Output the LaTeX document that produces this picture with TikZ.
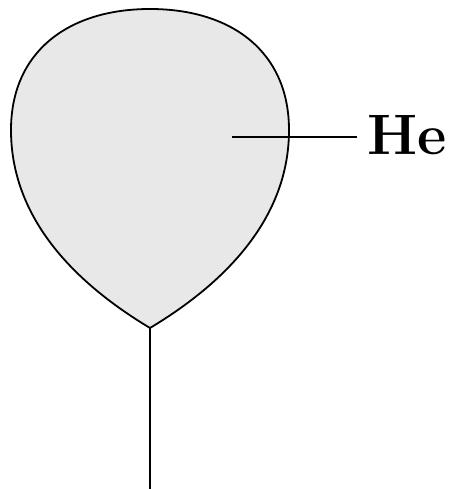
\documentclass[tikz,border=0pt]{standalone}
\usepackage{fontspec}
\definecolor{balloongray}{RGB}{232,232,232}
\tikzset{
  outline/.style={line width=1.8pt, line join=round},
  label text/.style={font=\fontsize{57}{66}\selectfont\bfseries, inner sep=0pt, inner xsep=10pt}
}
\begin{document}
\begin{tikzpicture}[x=1pt,y=-1pt]
\useasboundingbox (0,0) rectangle (450,489);
\coordinate (tip) at (150,328);
\coordinate (bottom) at (150,489);
\coordinate (gas) at (232,137);
\fill[balloongray] (tip) .. controls (70,280) and (11,215) .. (11,130)
  .. controls (11,52) and (68,9) .. (150,9)
  .. controls (232,9) and (289,52) .. (289,130)
  .. controls (289,215) and (230,280) .. (tip) -- cycle;
\draw[outline] (tip) .. controls (70,280) and (11,215) .. (11,130)
  .. controls (11,52) and (68,9) .. (150,9)
  .. controls (232,9) and (289,52) .. (289,130)
  .. controls (289,215) and (230,280) .. (tip);
\draw[outline] (tip) -- (bottom);
\node[label text, anchor=base west] (he) at (357,154) {He};
\draw[outline] (gas) -- (gas -| he.west);
\end{tikzpicture}
\end{document}
